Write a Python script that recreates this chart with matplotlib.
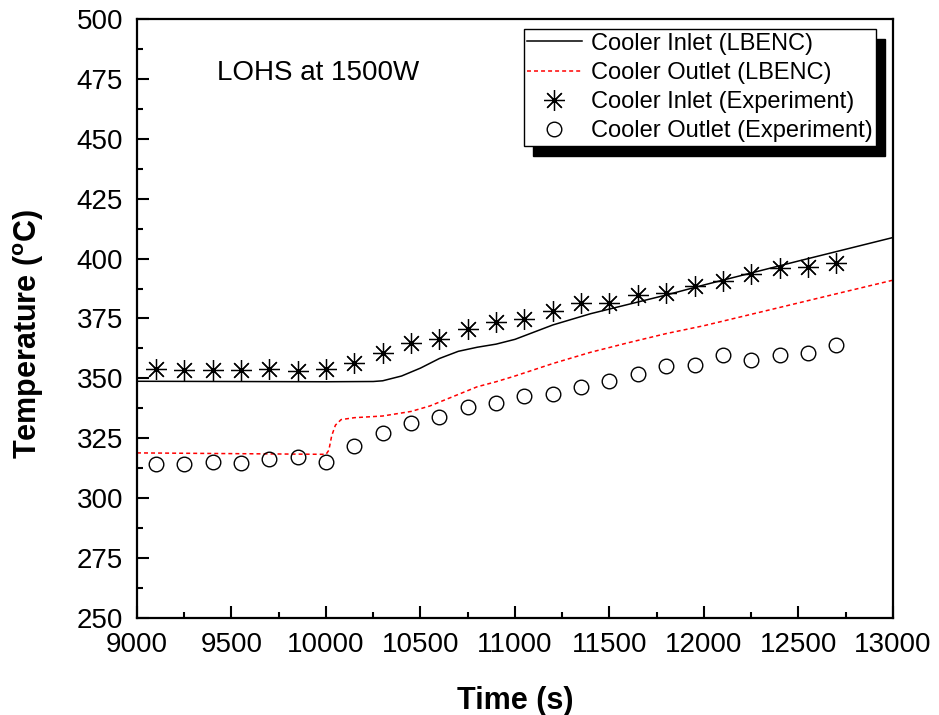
import matplotlib
matplotlib.use("Agg")
import matplotlib.pyplot as plt
from matplotlib.patches import Rectangle

plt.rcParams['font.family'] = ['Liberation Sans', 'DejaVu Sans']
plt.rcParams['mathtext.fontset'] = 'custom'
plt.rcParams['mathtext.rm'] = 'Liberation Sans'
plt.rcParams['mathtext.bf'] = 'Liberation Sans:bold'

# LBENC calculation, cooler inlet
sim_inlet_t = [9000, 10000, 10250, 10300, 10400, 10500, 10600, 10700, 10800, 10900,
               11000, 11200, 11400, 11600, 11800, 12000, 12500, 13000]
sim_inlet_T = [348.8, 348.6, 348.7, 349.0, 351.0, 354.3, 358.3, 361.3, 363.0, 364.3,
               366.3, 372.3, 377.0, 380.9, 384.8, 389.0, 399.0, 408.8]

# LBENC calculation, cooler outlet
sim_outlet_t = [9000, 9500, 10000, 10015, 10030, 10050, 10080, 10150, 10300, 10450,
                10550, 10650, 10800, 10900, 11000, 11200, 11400, 11600, 11800, 12000,
                12500, 13000]
sim_outlet_T = [318.9, 318.6, 318.3, 320.0, 326.0, 330.5, 332.8, 333.6, 334.3, 336.2,
                338.5, 341.7, 346.5, 348.6, 351.0, 356.2, 360.9, 364.9, 368.7, 372.0,
                381.5, 391.0]

# Experiment
exp_t = [9100, 9250, 9400, 9550, 9700, 9850, 10000, 10150, 10300, 10450, 10600, 10750,
         10900, 11050, 11200, 11350, 11500, 11650, 11800, 11950, 12100, 12250, 12400,
         12550, 12700]
exp_inlet_T = [354.0, 353.3, 353.3, 353.3, 354.0, 352.9, 354.0, 356.4, 360.5, 364.7,
               366.5, 370.7, 373.6, 374.8, 378.1, 381.5, 381.5, 384.7, 385.7, 388.4,
               390.8, 393.5, 395.9, 396.7, 398.2]
exp_outlet_T = [314.2, 314.2, 314.9, 314.5, 316.5, 317.0, 314.9, 321.8, 327.0, 331.4,
                333.9, 338.0, 339.7, 342.6, 343.4, 346.5, 348.9, 352.0, 355.0, 355.5,
                359.9, 357.8, 359.8, 360.5, 364.1]

fig = plt.figure(figsize=(9.39, 7.15), dpi=100)
ax = fig.add_axes([0.1459, 0.1357, 0.8051, 0.8377])

ax.plot(sim_inlet_t, sim_inlet_T, color='black', lw=1.1, label='Cooler Inlet (LBENC)')
ax.plot(sim_outlet_t, sim_outlet_T, color='red', lw=1.1, linestyle=(0, (2.6, 2)),
        label='Cooler Outlet (LBENC)')
ax.plot(exp_t, exp_inlet_T, linestyle='none', marker=(8, 2, 0), markersize=15,
        mew=0.9, color='black', label='Cooler Inlet (Experiment)')
ax.plot(exp_t, exp_outlet_T, linestyle='none', marker='o', markersize=10.5,
        mew=1.0, mfc='none', mec='black', label='Cooler Outlet (Experiment)')

ax.set_xlim(9000, 13000)
ax.set_ylim(250, 500)
ax.set_xticks(range(9000, 13001, 500))
ax.set_xticks(range(9250, 13000, 500), minor=True)
ax.set_yticks(range(250, 501, 25))
ax.set_yticks([250 + 12.5 * i for i in range(1, 20, 2)], minor=True)

ax.tick_params(which='both', direction='in', width=1.5, labelsize=20, pad=10)
ax.tick_params(which='major', length=8.5)
ax.tick_params(which='minor', length=4)
for s in ax.spines.values():
    s.set_linewidth(1.6)

ax.set_xlabel('Time (s)', fontsize=22, fontweight='bold', labelpad=20)
ax.set_ylabel(r'Temperature ($\mathbf{^{o}}$C)', fontsize=22, fontweight='bold')
ax.yaxis.set_label_coords(-0.12, 0.475)

ax.text(0.106, 0.898, 'LOHS at 1500W', transform=ax.transAxes, fontsize=20, va='baseline')

leg = ax.legend(loc='upper right', bbox_to_anchor=(0.978, 0.983), fontsize=17,
                fancybox=False, edgecolor='black', framealpha=1, borderaxespad=0,
                borderpad=0.15, handlelength=2.3, handletextpad=0.4, labelspacing=0.3)
leg.get_frame().set_linewidth(1.0)

# black drop shadow behind the legend box
fig.canvas.draw()
bb = leg.get_window_extent().transformed(ax.transAxes.inverted())
off_x = 9 / (ax.bbox.width)
off_y = 10 / (ax.bbox.height)
ax.add_patch(Rectangle((bb.x0 + off_x, bb.y0 - off_y), bb.width, bb.height,
                       transform=ax.transAxes, color='black', zorder=4.5, clip_on=False))

fig.savefig('out.png', dpi=100)
